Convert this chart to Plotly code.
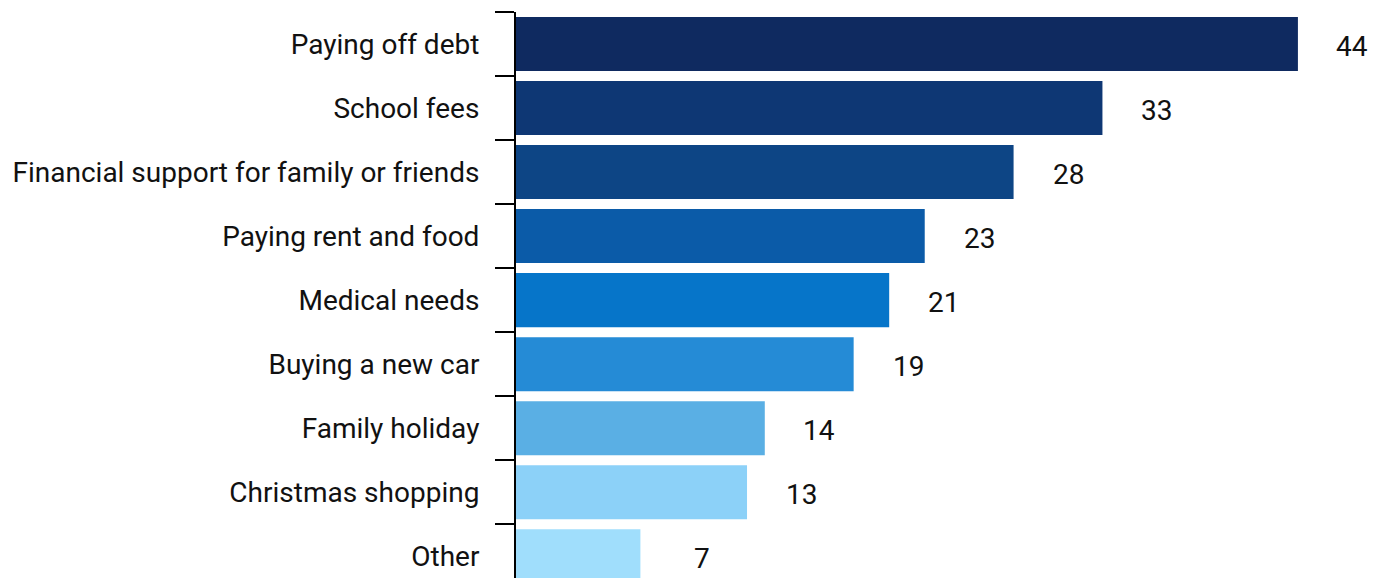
import plotly.graph_objects as go

# Reasons for spending, share of respondents
categories = [
    "Paying off debt",
    "School fees",
    "Financial support for family or friends",
    "Paying rent and food",
    "Medical needs",
    "Buying a new car",
    "Family holiday",
    "Christmas shopping",
    "Other",
]
values = [44, 33, 28, 23, 21, 19, 14, 13, 7]
bar_colors = [
    "#0F2A60", "#0E3774", "#0D4585", "#0B5BA8", "#0675C9",
    "#258BD6", "#5AAFE4", "#8CD1F8", "#A0DEFC",
]

FONT = "Roboto"
TEXT_SIZE = 28

fig = go.Figure(
    go.Bar(
        x=values,
        y=categories,
        orientation="h",
        marker=dict(color=bar_colors, line=dict(width=0)),
        hoverinfo="skip",
    )
)

# value labels to the right of each bar
for cat, val in zip(categories, values):
    fig.add_annotation(
        x=val, y=cat, text=str(val), showarrow=False,
        xanchor="right", yanchor="middle", xshift=72, yshift=-2,
        font=dict(family=FONT, size=TEXT_SIZE, color="#111111"),
    )

fig.update_layout(
    width=1386,
    height=578,
    margin=dict(l=516, r=17, t=12, b=0),
    paper_bgcolor="white",
    plot_bgcolor="white",
    bargap=0.156,
    showlegend=False,
    font=dict(family=FONT, size=TEXT_SIZE, color="#111111"),
    xaxis=dict(
        range=[0, 48],
        visible=False,
        showgrid=False,
        zeroline=False,
    ),
    yaxis=dict(
        type="category",
        categoryorder="array",
        categoryarray=categories,
        range=[8.34, -0.5],
        showline=True,
        linecolor="black",
        linewidth=2,
        ticks="outside",
        tickson="boundaries",
        ticklen=19,
        tickwidth=2,
        tickcolor="black",
        ticklabelstandoff=29,
        showgrid=False,
        zeroline=False,
        tickfont=dict(family=FONT, size=TEXT_SIZE, color="#111111"),
    ),
)

fig.write_html("out.html")
